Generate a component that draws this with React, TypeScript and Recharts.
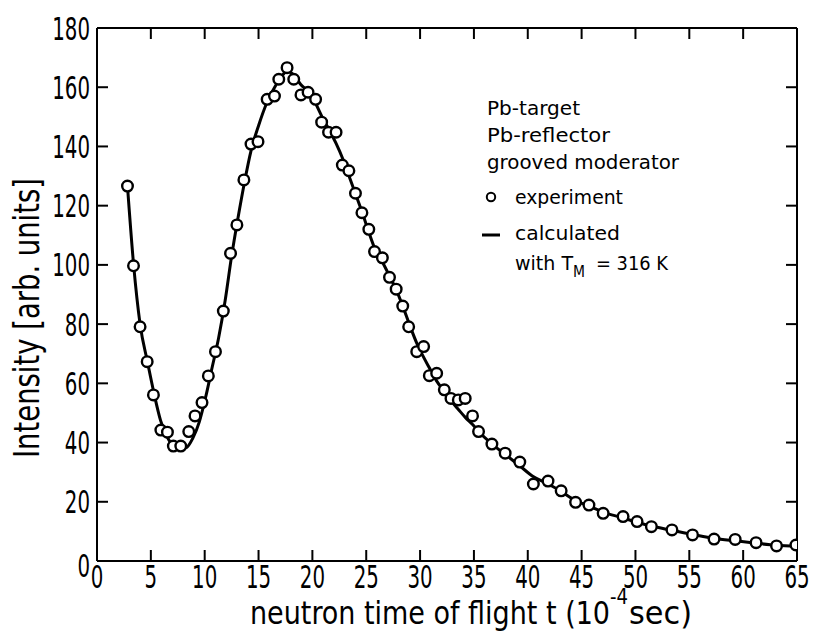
import React from "react";
import { ComposedChart, Line, Scatter, XAxis, YAxis, Label } from "recharts";

// experiment points
const expX = [2.83, 3.39, 4.0, 4.66, 5.24, 5.93, 6.54, 7.09, 7.78, 8.52, 9.1, 9.75, 10.34, 11.0, 11.73, 12.4, 12.99, 13.64, 14.3, 14.95, 15.8, 16.48, 16.88, 17.65, 18.27, 18.94, 19.6, 20.3, 20.86, 21.5, 22.2, 22.78, 23.39, 24.0, 24.6, 25.24, 25.77, 26.5, 27.16, 27.78, 28.39, 28.94, 29.69, 30.33, 30.86, 31.54, 32.25, 32.87, 33.55, 34.19, 34.87, 35.43, 36.67, 37.9, 39.26, 40.52, 41.88, 43.1, 44.44, 45.68, 47.0, 48.85, 50.15, 51.48, 53.39, 55.3, 57.3, 59.26, 61.2, 63.1, 64.9];
const expY = [126.6, 99.7, 79.1, 67.3, 56.1, 44.2, 43.5, 38.8, 38.8, 43.7, 49.0, 53.5, 62.5, 70.7, 84.4, 103.9, 113.5, 128.7, 140.8, 141.6, 155.9, 157.0, 162.7, 166.6, 162.7, 157.4, 158.3, 155.9, 148.2, 144.8, 144.8, 133.7, 131.8, 124.2, 117.6, 112.0, 104.5, 102.4, 95.8, 91.8, 86.1, 79.1, 70.7, 72.4, 62.6, 63.4, 57.8, 54.9, 54.4, 54.9, 49.0, 43.7, 39.5, 36.4, 33.4, 26.0, 27.0, 23.7, 19.8, 18.9, 16.1, 15.0, 13.3, 11.6, 10.5, 8.8, 7.4, 7.3, 6.2, 5.1, 5.4];

// calculated curve
const calcX = [2.83, 3.4, 4.0, 4.7, 5.3, 5.9, 6.5, 7.1, 7.7, 8.3, 8.9, 9.5, 10.1, 10.7, 11.3, 11.9, 12.5, 13.1, 13.7, 14.3, 15.0, 15.8, 16.5, 17.1, 17.7, 18.3, 18.9, 19.6, 20.3, 20.9, 21.5, 22.2, 22.8, 23.4, 24.0, 24.6, 25.2, 25.8, 26.5, 27.2, 27.8, 28.4, 29.0, 29.7, 30.3, 30.9, 31.5, 32.3, 32.9, 33.6, 34.2, 34.9, 35.5, 36.7, 37.9, 39.3, 40.5, 41.9, 43.1, 44.4, 45.7, 47.0, 48.9, 50.2, 51.5, 53.4, 55.3, 57.3, 59.3, 61.2, 63.1, 65.0];
const calcY = [126.6, 100, 80, 67, 56.5, 47.5, 42, 38.8, 37.8, 38.3, 41.5, 47, 55.5, 65.5, 75.5, 88, 103, 116, 128, 138.5, 147, 155, 160, 163.5, 165.5, 164, 161, 158.5, 154.5, 150, 146, 141, 136, 130, 124, 118, 111.5, 105.5, 101, 96, 91.5, 86, 80, 73.5, 69, 65, 61, 57, 54, 51, 48.5, 46, 43.5, 39.5, 36, 32, 28.5, 26, 23.5, 20.5, 18.5, 16.5, 14.5, 13, 11.8, 10.3, 9, 7.7, 6.8, 6, 5.3, 4.9];

const xTicks = [0, 5, 10, 15, 20, 25, 30, 35, 40, 45, 50, 55, 60, 65];
const yTicks = [0, 20, 40, 60, 80, 100, 120, 140, 160, 180];

const xTitle = "neutron time of flight t (10";
const xTitleSup = "-4";
const xTitleEnd = "sec)";
const yTitle = "Intensity [arb. units]";
const noteLines = ["Pb-target", "Pb-reflector", "grooved moderator"];
const legendExp = "experiment";
const legendCalc = "calculated";

const expData = expX.map((x, i) => ({ x, y: expY[i] }));
const calcData = calcX.map((x, i) => ({ x, y: calcY[i] }));

const FONT = "'DejaVu Sans Condensed', 'DejaVu Sans', sans-serif";

const BottomTick = (props: any) => {
  const { x, y, payload } = props;
  return (
    <g>
      <line x1={x} x2={x} y1={y} y2={y - 11} stroke="#000" strokeWidth={2} />
      <text
        transform={`translate(${x},${y + 27}) scale(1,1.45)`}
        textAnchor="middle"
        fontFamily={FONT}
        fontSize={22}
        fill="#000"
      >
        {payload.value}
      </text>
    </g>
  );
};

const LeftTick = (props: any) => {
  const { x, y, payload } = props;
  const dy = payload.value === 0 ? 16 : 11.5;
  return (
    <g>
      <line x1={x} x2={x + 11} y1={y} y2={y} stroke="#000" strokeWidth={2} />
      <text
        transform={`translate(${x - 7},${y + dy}) scale(1,1.45)`}
        textAnchor="end"
        fontFamily={FONT}
        fontSize={22}
        fill="#000"
      >
        {payload.value}
      </text>
    </g>
  );
};

const TopTick = (props: any) => {
  const { x, y } = props;
  return <line x1={x} x2={x} y1={y} y2={y + 11} stroke="#000" strokeWidth={2} />;
};

const RightTick = (props: any) => {
  const { x, y } = props;
  return <line x1={x} x2={x - 11} y1={y} y2={y} stroke="#000" strokeWidth={2} />;
};

const XTitle = () => (
  <g fontFamily={FONT} fill="#000">
    <text transform={`translate(250,624) scale(1,1.4)`} fontSize={23} textLength={360} lengthAdjust="spacingAndGlyphs">
      {xTitle}
    </text>
    <text transform={`translate(610,604) scale(1,1.3)`} fontSize={16} textLength={18} lengthAdjust="spacingAndGlyphs">
      {xTitleSup}
    </text>
    <text transform={`translate(629,624) scale(1,1.4)`} fontSize={23} textLength={63} lengthAdjust="spacingAndGlyphs">
      {xTitleEnd}
    </text>
  </g>
);

const YTitle = () => (
  <text
    transform={`translate(39,318) rotate(-90) scale(1,1.45)`}
    textAnchor="middle"
    fontFamily={FONT}
    fontSize={24.5}
    fill="#000"
    textLength={280}
    lengthAdjust="spacingAndGlyphs"
  >
    {yTitle}
  </text>
);

const Dot = (props: any) => {
  const { cx, cy } = props;
  return <circle cx={cx} cy={cy} r={5.3} fill="#fff" stroke="#000" strokeWidth={2.4} />;
};

export default function App() {
  const noteBase = [115, 142, 169];
  const noteWidths = [93, 123, 192];
  return (
    <div style={{ position: "absolute", left: 0, top: 0, width: 814, height: 633, background: "#fff" }}>
      <ComposedChart width={814} height={633} margin={{ top: 27, right: 16, bottom: 0, left: 0 }}>
        <XAxis
          xAxisId="b"
          dataKey="x"
          type="number"
          domain={[0, 65]}
          ticks={xTicks}
          interval={0}
          orientation="bottom"
          height={72}
          tickSize={0}
          tickMargin={0}
          tickLine={false}
          axisLine={{ stroke: "#000", strokeWidth: 2 }}
          tick={BottomTick}
          allowDataOverflow
        >
          <Label content={XTitle} />
        </XAxis>
        <XAxis
          xAxisId="t"
          dataKey="x"
          type="number"
          domain={[0, 65]}
          ticks={xTicks}
          interval={0}
          orientation="top"
          height={1}
          tickSize={0}
          tickMargin={0}
          tickLine={false}
          axisLine={{ stroke: "#000", strokeWidth: 2 }}
          tick={TopTick}
          allowDataOverflow
        />
        <YAxis
          yAxisId="l"
          type="number"
          domain={[0, 180]}
          ticks={yTicks}
          interval={0}
          orientation="left"
          width={97}
          tickSize={0}
          tickMargin={0}
          tickLine={false}
          axisLine={{ stroke: "#000", strokeWidth: 2 }}
          tick={LeftTick}
          allowDataOverflow
        >
          <Label content={YTitle} />
        </YAxis>
        <YAxis
          yAxisId="r"
          type="number"
          domain={[0, 180]}
          ticks={yTicks}
          interval={0}
          orientation="right"
          width={1}
          tickSize={0}
          tickMargin={0}
          tickLine={false}
          axisLine={{ stroke: "#000", strokeWidth: 2 }}
          tick={RightTick}
          allowDataOverflow
        />
        <Line
          xAxisId="b"
          yAxisId="l"
          data={calcData}
          dataKey="y"
          type="monotone"
          stroke="#000"
          strokeWidth={3}
          dot={false}
          activeDot={false}
          isAnimationActive={false}
        />
        <Scatter
          xAxisId="b"
          yAxisId="l"
          data={expData}
          dataKey="y"
          shape={Dot}
          isAnimationActive={false}
        />
      </ComposedChart>
      <svg
        width={814}
        height={633}
        style={{ position: "absolute", left: 0, top: 0, pointerEvents: "none" }}
      >
        <g fontFamily={FONT} fill="#000" fontSize={20}>
          {noteLines.map((t, i) => (
            <text key={t} x={487} y={noteBase[i]} textLength={noteWidths[i]} lengthAdjust="spacingAndGlyphs">
              {t}
            </text>
          ))}
          <circle cx={491} cy={197} r={4.2} fill="#fff" stroke="#000" strokeWidth={2} />
          <text x={515} y={204} textLength={108} lengthAdjust="spacingAndGlyphs">
            {legendExp}
          </text>
          <line x1={482} x2={500} y1={235} y2={235} stroke="#000" strokeWidth={3} />
          <text x={515} y={240} textLength={105} lengthAdjust="spacingAndGlyphs">
            {legendCalc}
          </text>
          <text x={515} y={270} textLength={58} lengthAdjust="spacingAndGlyphs">
            with T
          </text>
          <text x={573} y={277} fontSize={15} textLength={12} lengthAdjust="spacingAndGlyphs">
            M
          </text>
          <text x={596} y={270} textLength={72} lengthAdjust="spacingAndGlyphs">
            = 316 K
          </text>
        </g>
      </svg>
    </div>
  );
}
